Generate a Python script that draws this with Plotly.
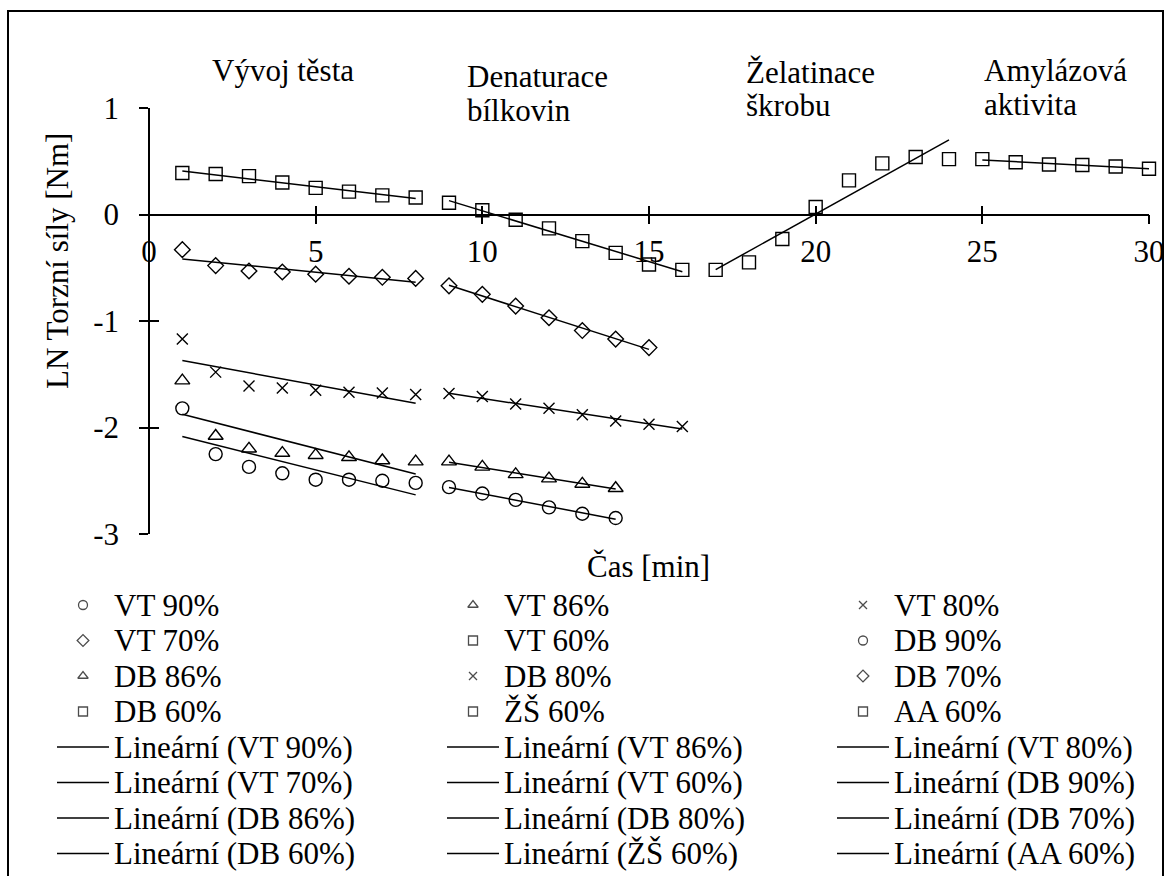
import numpy as np
import plotly.graph_objects as go

W, H = 1171, 876
FONT = "Liberation Serif, Tinos, Times New Roman, DejaVu Serif, serif"
FS = 31

# ---------------- data ----------------
x_vt = [1, 2, 3, 4, 5, 6, 7, 8]
x_db8 = [9, 10, 11, 12, 13, 14, 15, 16]
x_db7 = [9, 10, 11, 12, 13, 14, 15]
x_db6 = [9, 10, 11, 12, 13, 14]
x_zs = [17, 18, 19, 20, 21, 22, 23, 24]
x_aa = [25, 26, 27, 28, 29, 30]

vt90 = [-1.82, -2.25, -2.37, -2.43, -2.49, -2.49, -2.50, -2.52]
vt86 = [-1.56, -2.08, -2.20, -2.24, -2.26, -2.28, -2.31, -2.32]
vt80 = [-1.17, -1.48, -1.61, -1.63, -1.65, -1.67, -1.675, -1.69]
vt70 = [-0.33, -0.48, -0.53, -0.54, -0.56, -0.58, -0.59, -0.60]
vt60 = [0.39, 0.38, 0.36, 0.30, 0.25, 0.215, 0.18, 0.16]
db90 = [-2.56, -2.62, -2.68, -2.75, -2.81, -2.85]
db86 = [-2.32, -2.37, -2.44, -2.48, -2.53, -2.57]
db80 = [-1.68, -1.71, -1.78, -1.82, -1.88, -1.94, -1.97, -1.99]
db70 = [-0.67, -0.75, -0.86, -0.97, -1.09, -1.17, -1.25]
db60 = [0.11, 0.04, -0.05, -0.13, -0.25, -0.36, -0.47, -0.52]
zs60 = [-0.52, -0.45, -0.23, 0.07, 0.32, 0.48, 0.54, 0.52]
aa60 = [0.52, 0.49, 0.47, 0.465, 0.45, 0.43]

names = ["VT 90%", "VT 86%", "VT 80%", "VT 70%", "VT 60%", "DB 90%",
         "DB 86%", "DB 80%", "DB 70%", "DB 60%", "ŽŠ 60%", "AA 60%"]
xs = [x_vt, x_vt, x_vt, x_vt, x_vt, x_db6, x_db6, x_db8, x_db7, x_db8, x_zs, x_aa]
ys = [vt90, vt86, vt80, vt70, vt60, db90, db86, db80, db70, db60, zs60, aa60]
symbols = ["circle-open", "triangle-up-open", "x-thin-open", "diamond-open", "square-open",
           "circle-open", "triangle-up-open", "x-thin-open", "diamond-open", "square-open",
           "square-open", "square-open"]
sizes = {"circle-open": 13, "triangle-up-open": 13, "x-thin-open": 11,
         "diamond-open": 12, "square-open": 13}

x_tickvals = [0, 5, 10, 15, 20, 25, 30]
x_ticktext = ["0", "5", "10", "15", "20", "25", "30"]
y_tickvals = [-3, -2, -1, 0, 1]
y_ticktext = ["-3", "-2", "-1", "0", "1"]

phase_labels = [("Vývoj těsta",), ("Denaturace", "bílkovin"),
                ("Želatinace", "škrobu"), ("Amylázová", "aktivita")]

y_title = "LN Torzní síly [Nm]"
x_title = "Čas [min]"

# ---------------- geometry ----------------
def px(x):
    return x / W

def py(y):
    return 1 - y / H

XDOM = [px(149), px(1149)]
YDOM = [py(534), py(108)]
XR = [0, 30]
YR = [-3, 1]
Y0POS = YDOM[0] + (0 - YR[0]) / (YR[1] - YR[0]) * (YDOM[1] - YDOM[0])
ANN_PAD = 3  # annotation inner padding compensation

fig = go.Figure()

# data markers
for n, x, y, s in zip(names, xs, ys, symbols):
    fig.add_trace(go.Scatter(
        x=x, y=y, mode="markers", name=n, showlegend=False,
        marker=dict(symbol=s, size=sizes[s], color="black",
                    line=dict(color="black", width=1.4)),
        xaxis="x", yaxis="y", cliponaxis=False))

# linear trendlines (least squares fits)
for n, x, y in zip(names, xs, ys):
    xa = np.array(x, dtype=float)
    k, q = np.polyfit(xa, np.array(y, dtype=float), 1)
    fx = [xa.min(), xa.max()]
    fig.add_trace(go.Scatter(
        x=fx, y=[k * v + q for v in fx], mode="lines", name="Lineární (%s)" % n,
        showlegend=False, line=dict(color="black", width=1.5),
        xaxis="x2", yaxis="y2", cliponaxis=False))

# ---------------- custom legend (3 columns, Excel-like spacing) ----------------
LEG_COL_X = [57, 447, 837]
SYM_W = 52
TEXT_GAP = 6
ROW0 = 605
ROW_H = 35.5
leg_labels = names + ["Lineární (%s)" % n for n in names]

mk_x, mk_y, mk_s, mk_z = [], [], [], []
ln_x, ln_y = [], []
for i, lab in enumerate(leg_labels):
    r, c = divmod(i, 3)
    x0 = LEG_COL_X[c]
    yc = ROW0 + r * ROW_H
    if i < len(names):
        mk_x.append(x0 + SYM_W / 2)
        mk_y.append(yc)
        mk_s.append(symbols[i])
        mk_z.append(9 if symbols[i] != "x-thin-open" else 8)
    else:
        ln_x += [x0, x0 + SYM_W, None]
        ln_y += [yc, yc, None]
    fig.add_annotation(x=x0 + SYM_W + TEXT_GAP - ANN_PAD, y=yc, xref="x3", yref="y3",
                       text=lab, showarrow=False, xanchor="left", yanchor="middle",
                       font=dict(family=FONT, size=FS, color="black"))

fig.add_trace(go.Scatter(x=mk_x, y=mk_y, mode="markers", showlegend=False,
                         marker=dict(symbol=mk_s, size=mk_z, color="black",
                                     line=dict(color="black", width=1.3)),
                         xaxis="x3", yaxis="y3", hoverinfo="skip"))
fig.add_trace(go.Scatter(x=ln_x, y=ln_y, mode="lines", showlegend=False,
                         line=dict(color="black", width=1.5),
                         xaxis="x3", yaxis="y3", hoverinfo="skip"))

# ---------------- phase labels ----------------
phase_pos = [(213, [71]), (468, [76, 110]), (747, [72, 106]), (985, [71, 104])]
for lines, (lx, lys) in zip(phase_labels, phase_pos):
    for t, ly in zip(lines, lys):
        fig.add_annotation(x=px(lx - ANN_PAD), y=py(ly), xref="paper", yref="paper", text=t,
                           showarrow=False, xanchor="left", yanchor="middle",
                           font=dict(family=FONT, size=FS, color="black"))

# axis titles
fig.add_annotation(x=px(57), y=py(261), xref="paper", yref="paper", text=y_title,
                   textangle=-90, showarrow=False, xanchor="center", yanchor="middle",
                   font=dict(family=FONT, size=FS, color="black"))
fig.add_annotation(x=px(648), y=py(566), xref="paper", yref="paper", text=x_title,
                   showarrow=False, xanchor="center", yanchor="middle",
                   font=dict(family=FONT, size=FS, color="black"))

# outer chart border
fig.add_shape(type="rect", xref="paper", yref="paper",
              x0=px(8), x1=px(1163), y0=py(H + 20), y1=py(11),
              line=dict(color="black", width=2), fillcolor="rgba(0,0,0,0)")

tickfont = dict(family=FONT, size=FS, color="black")
common = dict(automargin=False, showgrid=False, zeroline=False)
fig.update_layout(
    template="none",
    width=W, height=H,
    margin=dict(l=0, r=0, t=0, b=0, pad=0, autoexpand=False),
    paper_bgcolor="white", plot_bgcolor="rgba(0,0,0,0)",
    font=dict(family=FONT, size=FS, color="black"),
    showlegend=False,
    xaxis=dict(domain=XDOM, range=XR, tickmode="array", tickvals=x_tickvals,
               ticktext=x_ticktext, anchor="free", position=Y0POS,
               showline=True, linecolor="black", linewidth=1.5,
               ticks="outside", ticklen=9, tickwidth=1.5, tickcolor="black",
               tickfont=tickfont, ticklabelstandoff=1, **common),
    yaxis=dict(domain=YDOM, range=YR, tickmode="array", tickvals=y_tickvals,
               ticktext=y_ticktext, anchor="free", position=XDOM[0],
               showline=True, linecolor="black", linewidth=1.5,
               ticks="outside", ticklen=9, tickwidth=1.5, tickcolor="black",
               tickfont=tickfont, ticklabelstandoff=14, **common),
    xaxis2=dict(overlaying="x", range=XR, tickmode="array", tickvals=x_tickvals,
                anchor="free", position=Y0POS,
                showline=False, ticks="inside", ticklen=9, tickwidth=1.5, tickcolor="black",
                showticklabels=False, **common),
    yaxis2=dict(overlaying="y", range=YR, tickmode="array", tickvals=y_tickvals,
                anchor="free", position=XDOM[0],
                side="left", showline=False, ticks="inside", ticklen=9, tickwidth=1.5,
                tickcolor="black", showticklabels=False, **common),
    xaxis3=dict(domain=[0, 1], range=[0, W], visible=False, anchor="y3",
                fixedrange=True, **common),
    yaxis3=dict(domain=[0, 1], range=[H, 0], visible=False, anchor="x3",
                fixedrange=True, **common),
)

fig.write_html("out.html",
               post_script="document.body.style.margin='0';document.body.style.padding='0';"
                           "document.documentElement.style.overflow='hidden';")
